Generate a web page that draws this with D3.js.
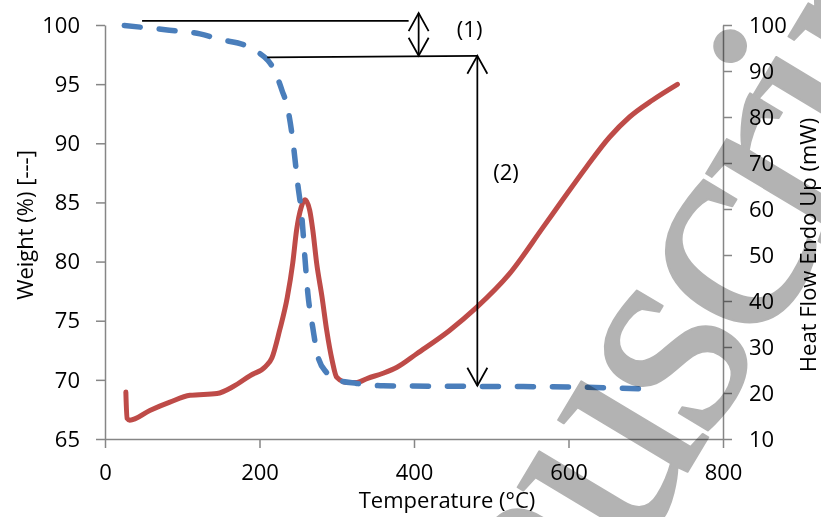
<!DOCTYPE html>
<html>
<head>
<meta charset="utf-8">
<script src="https://cdn.jsdelivr.net/npm/d3@7"></script>
<style>
  body { margin: 0; background: #fff; }
  svg { display: block; }
  text { font-family: "Open Sans", Lato, sans-serif; fill: #000; }
</style>
</head>
<body>
<svg id="chart"></svg>
<script>
// weight loss curve (left axis)
var tempW = [25, 78, 123, 151, 181, 198, 211, 217, 229, 237, 243, 249.6, 254.8, 258.7, 262.6, 269, 275.5, 287, 300, 326, 360, 480, 600, 714];
var weight = [99.95, 99.6, 99.25, 98.75, 98.3, 97.7, 97.0, 96.45, 94.5, 92.8, 90.3, 86.5, 83.8, 80.4, 77.3, 74.4, 72.0, 70.6, 70.0, 69.7, 69.5, 69.45, 69.4, 69.2];

// heat flow curve (right axis)
var tempH = [27, 28.5, 32, 58, 84, 110, 145, 166, 188, 208, 216, 226, 236, 243, 248, 254, 259, 265, 269, 274, 281, 287, 294, 300, 313, 326, 340, 360, 378, 404, 446, 481, 524, 567, 592, 623, 653, 679, 709, 741];
var heat = [20.2, 14.5, 14.1, 16.2, 18.0, 19.5, 19.9, 21.4, 23.8, 25.8, 27.6, 33.6, 40.8, 48.2, 55.4, 60.4, 62.0, 59.7, 55.4, 48.2, 40.8, 33.6, 27.1, 23.4, 22.3, 22.3, 23.2, 24.3, 25.6, 28.6, 33.6, 38.6, 46.0, 56.0, 61.9, 69.1, 75.6, 80.0, 83.7, 87.1];

var xTicks = [0, 200, 400, 600, 800];
var leftTicks = [65, 70, 75, 80, 85, 90, 95, 100];
var rightTicks = [10, 20, 30, 40, 50, 60, 70, 80, 90, 100];

// step annotations, in data units (temperature, weight)
var step1 = { top: 100.35, bottom: 97.4, lineFrom: 48, arrowAt: 406, label: "(1)", labelAt: [472, 99.0] };
var step2 = { top: 97.4, bottom: 69.5, lineFrom: 210, arrowAt: 482, label: "(2)", labelAt: [519, 86.9] };

var width = 821;
var height = 517;
var margin = { top: 25, right: 98, bottom: 78, left: 105 };

var svg = d3.select("#chart")
    .attr("width", width)
    .attr("height", height);

var x = d3.scaleLinear().domain([0, 800]).range([margin.left, width - margin.right]);
var yW = d3.scaleLinear().domain([65, 100]).range([height - margin.bottom, margin.top]);
var yH = d3.scaleLinear().domain([10, 100]).range([height - margin.bottom, margin.top]);

var axisColor = "#868686";

function styleAxis(g) {
    g.selectAll("path").attr("stroke", axisColor).attr("stroke-width", 1.5);
    g.selectAll("line").attr("stroke", axisColor).attr("stroke-width", 1.5);
    g.selectAll("text").attr("font-size", 22).attr("fill", "#000")
        .attr("font-family", "'Open Sans', Lato, sans-serif");
}

// x axis
var gx = svg.append("g")
    .attr("transform", "translate(0," + (height - margin.bottom) + ")")
    .call(d3.axisBottom(x).tickValues(xTicks).tickSize(9).tickSizeOuter(0).tickPadding(16));
styleAxis(gx);

// left axis
var gl = svg.append("g")
    .attr("transform", "translate(" + margin.left + ",0)")
    .call(d3.axisLeft(yW).tickValues(leftTicks).tickSize(9).tickSizeOuter(0).tickPadding(16));
styleAxis(gl);
gl.selectAll("text").attr("dy", "0.33em");

// right axis
var gr = svg.append("g")
    .attr("transform", "translate(" + (width - margin.right) + ",0)")
    .call(d3.axisRight(yH).tickValues(rightTicks).tickSize(9).tickSizeOuter(0).tickPadding(17));
styleAxis(gr);
gr.selectAll("text").attr("dy", "0.33em");

// axis titles
svg.append("text")
    .attr("x", 447).attr("y", 508)
    .attr("text-anchor", "middle")
    .attr("font-size", 22)
    .text("Temperature (°C)");

svg.append("text")
    .attr("transform", "translate(33,225) rotate(-90)")
    .attr("text-anchor", "middle")
    .attr("font-size", 22)
    .text("Weight (%) [---]");

svg.append("text")
    .attr("transform", "translate(816,245) rotate(-90)")
    .attr("text-anchor", "middle")
    .attr("font-size", 22)
    .text("Heat Flow Endo Up (mW)");

// curves
var weightLine = d3.line()
    .x(function (d, i) { return x(tempW[i]); })
    .y(function (d) { return yW(d); })
    .curve(d3.curveMonotoneX);

var heatLine = d3.line()
    .x(function (d, i) { return x(tempH[i]); })
    .y(function (d) { return yH(d); })
    .curve(d3.curveMonotoneX);

svg.append("path")
    .attr("d", heatLine(heat))
    .attr("fill", "none")
    .attr("stroke", "#BE4B48")
    .attr("stroke-width", 5)
    .attr("stroke-linecap", "round")
    .attr("stroke-linejoin", "round");

svg.append("path")
    .attr("d", weightLine(weight))
    .attr("fill", "none")
    .attr("stroke", "#4A7EBB")
    .attr("stroke-width", 5.5)
    .attr("stroke-dasharray", "16,19")
    .attr("stroke-linecap", "round");

// annotations
var ann = svg.append("g")
    .attr("stroke", "#000")
    .attr("stroke-width", 1.75)
    .attr("fill", "none");

function arrowHead(g, px, py, dir) {
    // open V head, dir = -1 points up, 1 points down
    g.append("path")
        .attr("d", "M" + (px - 10) + "," + (py - dir * 18) + "L" + px + "," + py + "L" + (px + 10) + "," + (py - dir * 18));
}

// horizontal reference lines
ann.append("line")
    .attr("x1", x(step1.lineFrom)).attr("y1", yW(step1.top))
    .attr("x2", x(step1.arrowAt) - 10).attr("y2", yW(step1.top));
ann.append("line")
    .attr("x1", x(step2.lineFrom)).attr("y1", yW(step2.top) + 1.5)
    .attr("x2", x(step2.arrowAt)).attr("y2", yW(step2.top));

// arrow (1)
ann.append("line")
    .attr("x1", x(step1.arrowAt)).attr("y1", yW(101.0))
    .attr("x2", x(step1.arrowAt)).attr("y2", yW(step1.bottom));
arrowHead(ann, x(step1.arrowAt), yW(101.0), -1);
arrowHead(ann, x(step1.arrowAt), yW(step1.bottom), 1);

// arrow (2)
ann.append("line")
    .attr("x1", x(step2.arrowAt)).attr("y1", yW(step2.top))
    .attr("x2", x(step2.arrowAt)).attr("y2", yW(step2.bottom));
arrowHead(ann, x(step2.arrowAt), yW(step2.top), -1);
arrowHead(ann, x(step2.arrowAt), yW(step2.bottom), 1);

[step1, step2].forEach(function (s) {
    svg.append("text")
        .attr("x", x(s.labelAt[0])).attr("y", yW(s.labelAt[1]))
        .attr("text-anchor", "middle")
        .attr("font-size", 22)
        .text(s.label);
});

// watermark
svg.append("text")
    .attr("transform", "translate(369,1002) rotate(-59)")
    .style("font-family", "'Liberation Serif', 'DejaVu Serif', serif")
    .style("font-size", "300px")
    .style("letter-spacing", "-12px")
    .style("fill", "#b3b3b3")
    .style("stroke", "#b3b3b3")
    .style("stroke-width", 2)
    .style("stroke-linejoin", "round")
    .style("mix-blend-mode", "multiply")
    .text("Manuscript");
</script>
</body>
</html>
